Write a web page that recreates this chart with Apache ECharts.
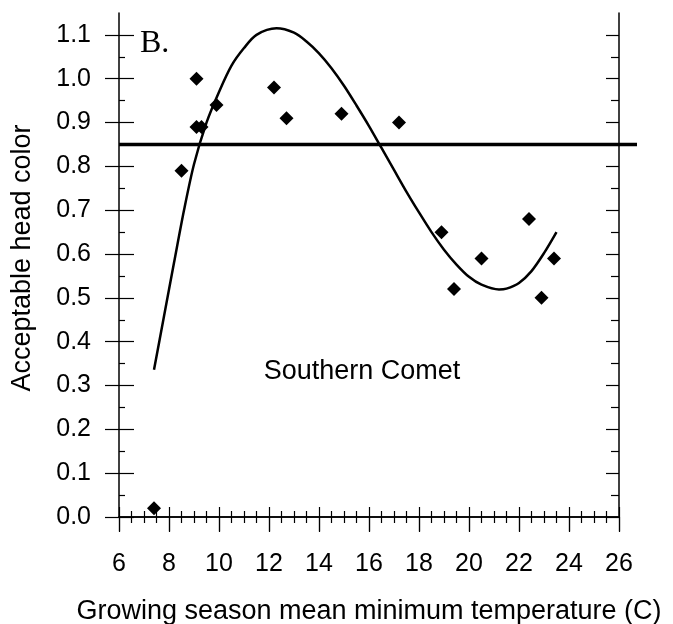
<!DOCTYPE html>
<html>
<head>
<meta charset="utf-8">
<script src="https://cdn.jsdelivr.net/npm/echarts@6/dist/echarts.min.js"></script>
<style>
  html, body { margin: 0; padding: 0; background: #fff; }
  #main { width: 673px; height: 624px; }
</style>
</head>
<body>
<div id="main"></div>
<script>
// points (temp, acceptable head color)
var temps = [7.4, 8.5, 9.1, 9.1, 9.3, 9.9, 12.2, 12.7, 14.9, 17.2, 18.9, 19.4, 20.5, 22.4, 22.9, 23.4];
var colors = [0.02, 0.79, 1.00, 0.89, 0.89, 0.94, 0.98, 0.91, 0.92, 0.90, 0.65, 0.52, 0.59, 0.68, 0.50, 0.59];

// fitted curve
var curveX = [7.4, 7.8, 8.2, 8.6, 9.0, 9.5, 10.0, 10.5, 11.0, 11.5, 12.3, 13.0, 13.5, 14.0, 14.5, 15.0, 15.5, 16.0, 16.5, 17.0, 17.5, 18.0, 18.5, 19.0, 19.5, 20.0, 20.5, 21.2, 21.5, 22.0, 22.5, 23.0, 23.5];
var curveY = [0.336, 0.458, 0.58, 0.70, 0.805, 0.90, 0.97, 1.03, 1.07, 1.10, 1.115, 1.105, 1.085, 1.058, 1.024, 0.984, 0.939, 0.892, 0.842, 0.792, 0.742, 0.695, 0.650, 0.610, 0.576, 0.548, 0.530, 0.519, 0.521, 0.534, 0.561, 0.602, 0.65];

// threshold line (runs a little past the right frame in the original)
var threshX = [6, 26.7];
var threshY = [0.85, 0.85];

var yTicks = [0, 0.1, 0.2, 0.3, 0.4, 0.5, 0.6, 0.7, 0.8, 0.9, 1.0, 1.1];
var yMinor = [0.05, 0.15, 0.25, 0.35, 0.45, 0.55, 0.65, 0.75, 0.85, 0.95, 1.05];

var font = 'Liberation Sans, Arial, sans-serif';
var black = '#000';

function zip(a, b) {
  var out = [];
  for (var i = 0; i < a.length; i++) out.push([a[i], b[i]]);
  return out;
}

var chart = echarts.init(document.getElementById('main'));

var xBase = { type: 'value', min: 6, max: 26, interval: 2, splitLine: { show: false } };
var yBase = { type: 'value', min: 0, max: 1.15, splitLine: { show: false } };

function xAx(extra) { return Object.assign({}, xBase, extra); }
function yAx(extra) { return Object.assign({}, yBase, extra); }

var tickLine = { color: black, width: 1.2 };
var axLine = { color: black, width: 1.5 };

var option = {
  animation: false,
  grid: [
    { left: 119, right: 54, top: 13, bottom: 107, outerBoundsMode: 'none', containLabel: false },
    // wider grid only for the threshold line
    { left: 119, right: 36, top: 13, bottom: 107, outerBoundsMode: 'none', containLabel: false }
  ],
  xAxis: [
    xAx({
      position: 'bottom',
      name: 'Growing season mean minimum temperature (C)',
      nameLocation: 'middle',
      nameGap: 81,
      nameTextStyle: { color: black, fontSize: 27, fontFamily: font },
      axisLine: { lineStyle: axLine },
      axisTick: { inside: false, length: 15, lineStyle: tickLine },
      axisLabel: { color: black, fontSize: 25, fontFamily: font, margin: 35 }
    }),
    xAx({
      position: 'bottom',
      axisLine: { show: false },
      axisTick: { inside: true, length: 10, lineStyle: tickLine },
      minorTick: { show: true, splitNumber: 4, length: 6, lineStyle: tickLine },
      axisLabel: { show: false }
    }),
    xAx({
      position: 'top',
      axisLine: { lineStyle: axLine },
      axisTick: { inside: true, length: 14, lineStyle: tickLine },
      minorTick: { show: true, splitNumber: 4, length: 6, lineStyle: tickLine },
      axisLabel: { show: false }
    }),
    { type: 'value', gridIndex: 1, min: 6, max: 26.7, show: false }
  ],
  yAxis: [
    yAx({
      position: 'left',
      name: 'Acceptable head color',
      nameLocation: 'middle',
      nameGap: 83,
      nameTextStyle: { color: black, fontSize: 27, fontFamily: font, padding: [0, 0, 0, 14] },
      axisLine: { lineStyle: axLine },
      axisTick: { inside: false, length: 14, customValues: yTicks, lineStyle: tickLine },
      axisLabel: {
        color: black, fontSize: 25, fontFamily: font, margin: 28,
        customValues: yTicks,
        formatter: function (v) { return v.toFixed(1); }
      }
    }),
    yAx({
      position: 'left',
      axisLine: { show: false },
      axisTick: { inside: true, length: 15, customValues: yTicks, lineStyle: tickLine },
      axisLabel: { show: false }
    }),
    yAx({
      position: 'left',
      axisLine: { show: false },
      axisTick: { inside: true, length: 6, customValues: yMinor, lineStyle: tickLine },
      axisLabel: { show: false }
    }),
    yAx({
      position: 'right',
      axisLine: { lineStyle: axLine },
      axisTick: { inside: true, length: 13, customValues: yTicks, lineStyle: tickLine },
      axisLabel: { show: false }
    }),
    yAx({
      position: 'right',
      axisLine: { show: false },
      axisTick: { inside: true, length: 8, customValues: yMinor, lineStyle: tickLine },
      axisLabel: { show: false }
    }),
    { type: 'value', gridIndex: 1, min: 0, max: 1.15, show: false }
  ],
  graphic: [
    {
      type: 'text',
      style: { x: 140, y: 44, text: 'B.', fill: black, font: '32px Liberation Serif, Times New Roman, serif', verticalAlign: 'middle' }
    },
    {
      type: 'text',
      style: { x: 362, y: 372, text: 'Southern Comet', fill: black, font: '27px ' + font, align: 'center', verticalAlign: 'middle' }
    }
  ],
  series: [
    {
      type: 'line',
      xAxisIndex: 3,
      yAxisIndex: 5,
      data: zip(threshX, threshY),
      symbol: 'none',
      lineStyle: { color: black, width: 3.5 },
      z: 3
    },
    {
      type: 'line',
      data: zip(curveX, curveY),
      smooth: 0.3,
      symbol: 'none',
      lineStyle: { color: black, width: 2.5 },
      z: 4
    },
    {
      type: 'scatter',
      data: zip(temps, colors),
      symbol: 'diamond',
      symbolSize: 14,
      itemStyle: { color: black, opacity: 1 },
      z: 5
    }
  ]
};

chart.setOption(option);
</script>
</body>
</html>
